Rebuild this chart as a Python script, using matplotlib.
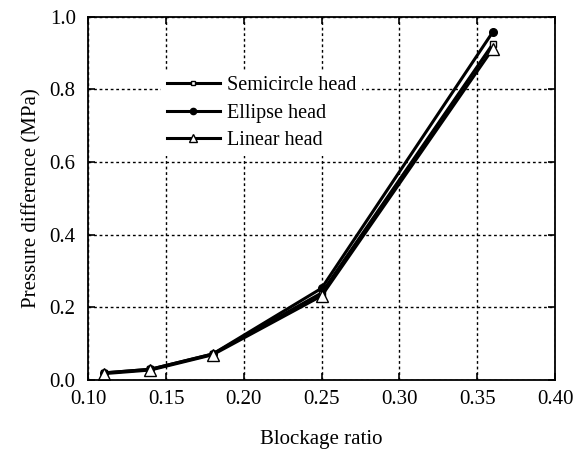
import numpy as np
import matplotlib.pyplot as plt

plt.rcParams['font.family'] = ['Liberation Serif', 'DejaVu Serif']

blockage = [0.11, 0.14, 0.18, 0.25, 0.36]
semicircle = [0.020, 0.030, 0.072, 0.240, 0.925]
ellipse = [0.020, 0.030, 0.072, 0.253, 0.958]
linear = [0.018, 0.028, 0.070, 0.232, 0.912]

fig = plt.figure(figsize=(5.88, 4.51), dpi=100)
ax = fig.add_axes([0.150, 0.157, 0.794, 0.806])

ax.plot(blockage, semicircle, color='black', lw=2.2, marker='s', ms=5,
        mfc='white', mec='black', mew=1, label='Semicircle head')
ax.plot(blockage, ellipse, color='black', lw=2.2, marker='o', ms=5.5,
        mfc='black', mec='black', label='Ellipse head')
ax.plot(blockage, linear, color='black', lw=2.2, marker='^', ms=8,
        mfc='white', mec='black', mew=1, label='Linear head')

ax.set_xlim(0.10, 0.40)
ax.set_ylim(0.0, 1.0)
ax.set_xticks(np.arange(0.10, 0.401, 0.05))
ax.set_yticks(np.arange(0.0, 1.01, 0.2))
ax.xaxis.set_major_formatter(plt.FormatStrFormatter('%.2f'))
ax.yaxis.set_major_formatter(plt.FormatStrFormatter('%.1f'))
ax.tick_params(direction='in', top=True, right=True, length=5, width=1.2,
               labelsize=15)
ax.tick_params(axis='x', pad=7)
ax.tick_params(axis='y', pad=9)
ax.grid(True, color='black', linestyle=(0, (2, 2)), lw=1)
for s in ax.spines.values():
    s.set_linewidth(1.3)

ax.set_xlabel('Blockage ratio', fontsize=15, labelpad=15)
ax.set_ylabel('Pressure difference (MPa)', fontsize=15, labelpad=6)

leg = ax.legend(loc='upper left', bbox_to_anchor=(0.155, 0.853), fontsize=14.5,
                frameon=True, framealpha=1, edgecolor='none', fancybox=False,
                handlelength=2.65, handletextpad=0.35, labelspacing=0.42,
                borderpad=0.3, borderaxespad=0)
for h, ms in zip(leg.legend_handles, [3.5, 4.5, 6]):
    h.set_markersize(ms)

fig.savefig('out.png', dpi=100)
